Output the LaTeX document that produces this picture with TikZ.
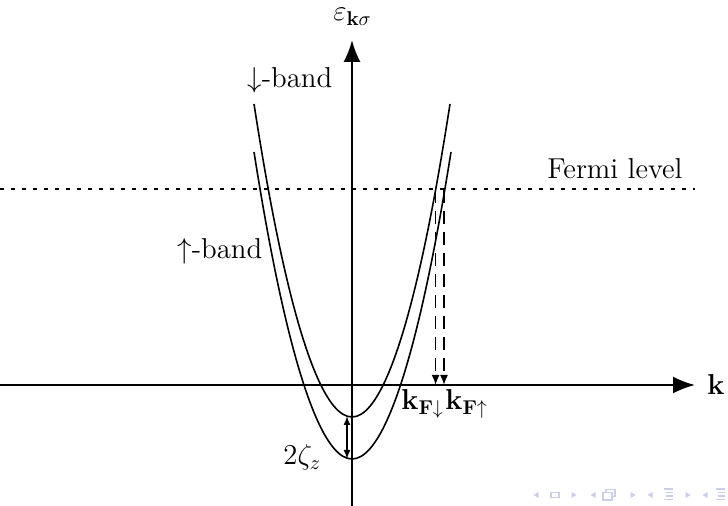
\documentclass[tikz,border=0pt]{standalone}
\usetikzlibrary{arrows.meta}
\definecolor{navc}{rgb}{0.80,0.80,0.92}
\begin{document}
\begin{tikzpicture}[x=0.5pt,y=-0.5pt,
  every node/.style={font=\fontsize{14.4}{17}\selectfont, inner sep=0pt},
  axis/.style={line width=1pt, -{Latex[length=11pt,width=8.5pt]}},
  band/.style={line width=0.8pt},
  fermi/.style={line width=0.7pt, dash pattern=on 2pt off 3.5pt},
  drop/.style={line width=0.8pt, dash pattern=on 6.5pt off 4pt, -{Latex[length=5pt,width=4pt]}},
  gap/.style={line width=0.8pt, {Latex[length=4.5pt,width=3.5pt]}-{Latex[length=4.5pt,width=3.5pt]}},
  navtri/.style={fill=navc},
  navline/.style={draw=navc, line width=0.6pt}]
\useasboundingbox (0,0) rectangle (728,506);

% axes
\coordinate (xstart) at (0,385);
\coordinate (xend) at (695,385);
\coordinate (ystart) at (352,506);
\coordinate (yend) at (352,40);
\draw[axis] (xstart) -- (xend);
\draw[axis] (ystart) -- (yend);

% Fermi level
\coordinate (fL) at (0,189);
\coordinate (fR) at (695,189);
\draw[fermi] (fL) -- (fR);

% bands
\coordinate (dnL) at (254,104);
\coordinate (dnV) at (352,417);
\coordinate (dnR) at (450,104);
\coordinate (upL) at (254,152);
\coordinate (upV) at (352,459);
\coordinate (upR) at (451,152);
\draw[band] (dnL) parabola bend (dnV) (dnR);
\draw[band] (upL) parabola bend (upV) (upR);

% Fermi wave vectors
\coordinate (kdTop) at (435.6,190);
\coordinate (kdBot) at (435.6,385);
\coordinate (kuTop) at (444,190);
\coordinate (kuBot) at (444,385);
\draw[drop] (kdTop) -- (kdBot);
\draw[drop] (kuTop) -- (kuBot);

% splitting
\coordinate (gT) at (347,416);
\coordinate (gB) at (347,459);
\draw[gap] (gT) -- (gB);

% labels
\node[anchor=base west] (eps) at (333,21) {$\varepsilon_{\mathbf{k}\sigma}$};
\node[anchor=base west] (kax) at (707,395) {$\mathbf{k}$};
\node[anchor=base west] (dnlab) at (247,88) {$\downarrow$-band};
\node[anchor=base west] (uplab) at (177,259) {$\uparrow$-band};
\node[anchor=base west] (fermilab) at (547,179) {Fermi level};
\node[anchor=base west] (kfd) at (401,410) {$\mathbf{k}_{\mathbf{F}\downarrow}$};
\node[anchor=base west] (kfu) at (445,410) {$\mathbf{k}_{\mathbf{F}\uparrow}$};
\node[anchor=base west] (zeta) at (283,465) {$2\zeta_z$};

% beamer navigation symbols
\fill[navtri] (538.5,492) -- (538.5,498) -- (533.5,495) -- cycle;
\draw[navline] (551,492.5) rectangle (559,497.5);
\fill[navtri] (571.5,492) -- (571.5,498) -- (576.5,495) -- cycle;
\fill[navtri] (595.5,492) -- (595.5,498) -- (590.5,495) -- cycle;
\draw[navline] (606,489.5) rectangle (615,496.5);
\draw[navline, fill=white] (603,492.5) rectangle (612,500);
\fill[navtri] (630.5,492) -- (630.5,498) -- (635.5,495) -- cycle;
\fill[navtri] (652.5,492) -- (652.5,498) -- (647.5,495) -- cycle;
\draw[navline] (664,489) -- (673,489);
\draw[navline] (666,492.5) -- (673,492.5);
\draw[navline] (666,496) -- (673,496);
\draw[navline] (664,499.5) -- (673,499.5);
\fill[navtri] (685.5,492) -- (685.5,498) -- (690.5,495) -- cycle;
\fill[navtri] (707.5,492) -- (707.5,498) -- (702.5,495) -- cycle;
\draw[navline] (716,489) -- (725,489);
\draw[navline] (718,492.5) -- (725,492.5);
\draw[navline] (718,496) -- (725,496);
\draw[navline] (716,499.5) -- (725,499.5);
\end{tikzpicture}
\end{document}
